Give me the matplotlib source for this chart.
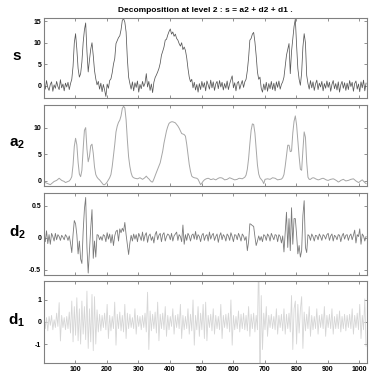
import numpy as np
import matplotlib
matplotlib.use('Agg')
import matplotlib.pyplot as plt

plt.rcParams['font.family'] = ['Liberation Sans', 'DejaVu Sans']
plt.rcParams['font.weight'] = 'bold'
plt.rcParams['mathtext.fontset'] = 'custom'
plt.rcParams['mathtext.bf'] = 'Liberation Sans:bold'
plt.rcParams['mathtext.rm'] = 'Liberation Sans:bold'
plt.rcParams['axes.unicode_minus'] = False

# sample numbers (every 4th sample of the 1024-sample signal)
sample_index = np.arange(1, 1025, 4)

s_values = [
    0.5, -0.8, 1.2, -0.4, -1.1, 0.3, 0.9, -1.3, 0.2, -0.6, 1.0, -0.2, -0.9, 1.4, -0.5, 0.4,
    -1.2, 0.6, -0.3, 0.8, -0.9, 0.5, 1.5, 4.5, 10.0, 12.1, 8.5, 4.0, 2.0, 2.8, 5.5, 10.0,
    13.0, 14.6, 8.0, 3.2, 6.0, 8.5, 10.0, 7.0, 3.5, 1.6, 0.2, 1.0, -0.8, 0.6, -1.4, 0.3,
    -1.0, -2.5, 0.4, -0.6, 1.2, 1.6, 3.0, 5.0, 6.3, 9.8, 10.5, 11.2, 11.6, 13.0, 15.2, 15.6,
    14.8, 12.5, 6.3, 2.0, 0.5, -0.8, 0.9, -1.2, 0.7, -0.4, 1.1, -1.5, 0.3, -0.7, 1.0, -0.2,
    0.6, 2.8, -0.3, 1.0, -1.1, 0.4, -1.6, 0.8, 1.9, 2.5, 3.2, 4.0, 5.2, 7.1, 8.0, 9.0,
    10.6, 10.8, 11.8, 12.6, 13.2, 12.0, 12.5, 11.5, 12.0, 11.0, 10.6, 9.8, 9.2, 10.0, 8.4, 9.0,
    8.2, 6.5, 4.0, 2.0, 0.9, 1.5, -0.5, 0.8, -1.0, 0.3, -1.5, 0.5, -0.9, 1.0, -0.4, 0.7,
    -1.2, 1.1, 0.2, -0.8, 1.3, -0.5, 0.9, -1.1, 0.4, 1.0, -0.7, 1.2, -0.3, 0.8, -1.0, 0.5,
    -0.6, 1.1, -0.9, 0.4, 1.4, 2.3, -0.5, 0.7, -1.2, 0.6, 1.0, -0.8, 0.3, 1.2, -0.4, 0.9,
    1.5, 3.5, 6.5, 10.6, 11.0, 12.0, 12.4, 10.2, 7.0, 3.2, 1.5, 2.0, -0.6, -1.5, 0.4, -1.0,
    0.8, -1.3, 0.5, -0.7, 1.0, -0.9, 0.6, -1.2, 0.9, -0.4, 1.1, -0.8, 0.3, 0.9, 2.0, 4.5,
    7.1, 8.5, 9.8, 2.8, 8.0, 11.0, 13.8, 15.5, 9.4, 4.0, 1.5, 0.1, 3.0, 9.0, 12.1, 10.0,
    2.4, 0.5, -0.8, 1.2, -0.5, 0.9, -1.1, 0.4, 1.3, -0.9, 0.6, -0.3, 1.0, -1.2, 0.5, -0.6,
    1.1, -0.4, 0.8, -1.3, 0.3, 1.2, -0.7, 0.5, -1.0, 0.9, -1.5, 0.2, 1.0, -0.6, 0.7, -1.1,
    0.6, -0.9, 1.2, -0.2, 0.8, -1.3, 0.5, 1.1, -0.8, 0.4, -1.4, 0.9, -0.5, 1.3, -1.2, 0.6,
]

a2_values = [
    -0.3, -0.3, -0.4, -0.5, -0.6, -0.7, -0.5, -0.3, -0.1, 0.0, 0.1, 0.3, 0.5, 0.3, 0.1, 0.0,
    -0.1, -0.3, -0.2, -0.1, 0.0, 0.3, 0.8, 3.0, 6.5, 8.0, 6.8, 3.5, 1.3, 0.8, 2.0, 6.0,
    9.5, 10.0, 6.0, 3.6, 4.6, 6.6, 6.9, 5.2, 2.6, 1.2, 0.7, 0.4, 0.2, -0.1, -0.4, -0.7,
    -0.7, -0.5, -0.2, 0.2, 0.6, 1.2, 2.7, 4.7, 6.8, 9.2, 10.3, 11.0, 11.4, 12.2, 13.6, 14.0,
    13.7, 11.5, 7.7, 4.5, 2.7, 1.5, 0.8, 0.6, 0.5, 0.45, 0.4, 0.5, 0.6, 0.45, 0.3, 0.45,
    0.65, 0.9, 0.6, 0.4, 0.1, -0.15, -0.2, 0.35, 1.0, 1.6, 2.2, 2.8, 3.4, 4.5, 5.6, 7.1,
    8.3, 9.4, 10.2, 10.8, 11.0, 11.1, 11.1, 11.0, 10.9, 10.6, 10.3, 9.9, 9.4, 8.9, 8.8, 8.7,
    8.4, 6.9, 5.0, 3.1, 1.8, 0.9, 0.7, 0.6, 0.55, 0.5, 0.3, -0.2, -0.7, -0.4, -0.05, 0.2,
    0.35, 0.45, 0.5, 0.4, 0.25, 0.3, 0.4, 0.3, 0.2, 0.35, 0.5, 0.6, 0.6, 0.55, 0.4, 0.2,
    0.25, 0.3, 0.45, 0.6, 0.5, 0.4, 0.3, 0.2, 0.25, 0.3, 0.45, 0.5, 0.45, 0.4, 0.55, 0.7,
    1.1, 2.2, 4.2, 7.0, 9.5, 10.7, 10.6, 9.0, 6.0, 3.0, 1.3, 0.6, 0.3, 0.0, -0.5, 0.3,
    0.35, 0.4, 0.35, 0.3, 0.45, 0.6, 0.55, 0.5, 0.35, 0.2, 0.25, 0.3, 0.35, 0.6, 1.2, 2.8,
    4.8, 6.7, 6.7, 5.5, 5.6, 9.0, 11.2, 12.2, 10.5, 7.5, 4.6, 2.2, 2.0, 5.8, 9.2, 8.2,
    3.5, 0.7, 0.3, 0.3, 0.5, 0.6, 0.55, 0.4, 0.3, 0.2, 0.25, 0.35, 0.45, 0.5, 0.4, 0.25,
    0.15, 0.1, 0.2, 0.3, 0.35, 0.4, 0.3, 0.15, 0.0, -0.2, -0.1, 0.1, 0.2, 0.3, 0.15, 0.0,
    0.05, 0.1, 0.2, 0.3, 0.35, 0.4, 0.2, 0.0, -0.15, -0.3, -0.15, 0.05, 0.2, -0.05, -0.3, -0.5,
]

d2_values = [
    0.08, -0.06, 0.11, -0.09, 0.05, -0.10, 0.07, 0.02, -0.05, 0.07, -0.03, 0.05, 0.02, -0.04, 0.04, 0.01,
    -0.03, 0.05, 0.02, -0.04, 0.03, -0.08, -0.23, 0.05, 0.27, 0.22, 0.05, -0.25, -0.05, -0.33, -0.40, 0.10,
    0.45, 0.63, -0.15, -0.55, -0.20, 0.15, 0.44, -0.32, -0.05, -0.30, 0.05, 0.04, -0.03, 0.02, -0.04, 0.05,
    0.03, -0.06, 0.08, -0.02, 0.06, -0.08, 0.05, -0.12, 0.03, 0.10, 0.12, -0.05, 0.14, 0.08, 0.15, 0.10,
    0.24, 0.05, -0.10, -0.26, -0.08, 0.04, -0.05, 0.06, -0.02, 0.05, -0.06, 0.07, 0.02, -0.04, 0.09, -0.05,
    0.04, 0.08, -0.07, 0.03, 0.06, -0.04, 0.02, -0.08, 0.05, 0.10, -0.03, 0.04, 0.07, -0.06, 0.05, 0.08,
    -0.05, 0.02, 0.06, 0.04, -0.03, 0.07, -0.05, 0.03, 0.06, 0.09, -0.04, 0.05, 0.02, -0.06, 0.20, -0.10,
    0.05, -0.04, 0.07, 0.03, -0.05, 0.04, 0.06, -0.02, 0.10, -0.03, 0.05, 0.02, -0.06, 0.04, 0.07, -0.04,
    0.03, 0.05, -0.05, 0.09, -0.02, 0.04, 0.07, -0.04, 0.02, 0.06, -0.07, 0.03, 0.08, -0.03, 0.05, 0.02,
    -0.05, 0.06, 0.03, -0.04, 0.08, 0.02, -0.06, 0.05, 0.04, -0.03, 0.07, 0.02, -0.05, 0.06, 0.03, -0.04,
    0.02, -0.20, -0.06, 0.22, 0.21, 0.19, 0.18, 0.02, -0.12, -0.05, 0.03, -0.04, 0.02, -0.06, 0.05, 0.03,
    -0.04, 0.06, 0.03, -0.05, 0.07, 0.02, -0.03, 0.05, 0.04, -0.06, 0.05, 0.02, -0.08, 0.03, -0.22, 0.10,
    0.40, -0.15, 0.30, -0.20, 0.47, -0.10, 0.30, 0.30, 0.05, -0.25, -0.12, -0.30, -0.20, 0.35, 0.58, -0.15,
    -0.23, 0.05, 0.03, -0.04, 0.06, 0.02, -0.05, 0.04, 0.03, -0.03, 0.06, 0.02, -0.04, 0.05, 0.03, -0.02,
    0.05, 0.07, -0.04, 0.03, 0.06, -0.05, 0.04, 0.02, -0.03, 0.05, 0.04, -0.06, 0.03, 0.07, -0.02, 0.04,
    0.05, -0.04, 0.03, 0.06, -0.03, 0.04, 0.12, -0.08, 0.05, 0.02, 0.14, -0.10, 0.06, 0.03, -0.05, 0.02,
]

d1_values = [
    0.35, -0.30, 0.20, -0.40, 0.25, -0.15, 0.30, -0.35, 0.10, -0.25, 0.40, -0.20, 0.88, -0.86, 0.30, -0.25,
    0.20, -0.35, 0.25, -0.30, 0.45, -0.50, 0.95, -0.90, 0.70, -0.60, 1.10, -0.85, 0.60, -1.00, 0.95, -0.55,
    0.70, -0.80, 1.40, -1.20, 0.60, -0.90, 1.25, -1.30, 1.15, -1.00, 0.55, -0.45, 0.35, -0.40, 0.30, -0.25,
    0.40, -0.35, 0.80, -0.75, 0.30, -0.40, 0.25, -0.30, 0.90, -1.05, 0.35, -0.30, 0.45, -0.40, 0.30, -0.45,
    0.80, -0.75, 0.40, -0.30, 0.35, -0.25, 0.20, -0.30, 0.60, -0.55, 0.30, -0.20, 0.25, -0.35, 0.30, -0.25,
    0.40, -0.45, 1.35, -1.25, 0.50, -0.40, 0.35, -0.30, 0.45, -0.50, 0.90, -0.85, 0.35, -0.30, 0.40, -0.35,
    0.70, -0.65, 0.30, -0.35, 0.25, -0.20, 0.60, -0.55, 0.30, -0.25, 0.35, -0.30, 0.80, -0.75, 0.30, -0.35,
    0.25, -0.30, 0.60, -0.55, 0.35, -0.40, 1.00, -1.05, 0.30, -0.35, 0.70, -0.65, 0.40, -0.35, 0.80, -0.75,
    0.90, -0.85, 0.30, -0.25, 0.35, -0.40, 0.60, -0.55, 0.30, -0.30, 0.25, -0.35, 0.80, -0.75, 0.30, -0.25,
    0.35, -0.30, 0.40, -0.45, 1.00, -1.05, 0.30, -0.35, 0.25, -0.30, 0.50, -0.45, 0.35, -0.30, 0.40, -0.35,
    0.30, -0.40, 0.70, -0.65, 0.35, -0.30, 0.40, -0.45, 0.30, -0.35, 3.00, -3.00, 1.20, -1.25, 0.40, -0.35,
    0.70, -0.65, 0.30, -0.25, 0.35, -0.30, 0.25, -0.35, 0.60, -0.55, 0.30, -0.25, 0.35, -0.40, 0.60, -0.55,
    0.35, -0.30, 0.40, -0.45, 1.20, -1.25, 0.60, 0.95, -1.00, 0.80, -0.50, 0.55, 1.15, -1.20, 0.45, -0.40,
    0.35, -0.30, 0.70, -0.65, 0.30, -0.35, 0.25, -0.30, 0.60, -0.55, 0.30, -0.25, 0.35, -0.30, 0.70, -0.65,
    0.30, -0.25, 0.35, -0.30, 0.60, -0.55, 0.25, -0.30, 0.35, -0.30, 0.50, -0.45, 0.25, -0.30, 0.35, -0.40,
    0.30, -0.25, 0.35, -0.30, 0.60, -0.55, 0.30, -0.25, 0.40, -0.35, 0.80, -0.75, 0.30, -0.35, 1.05, -1.10,
]

x_ticks = [100, 200, 300, 400, 500, 600, 700, 800, 900, 1000]
x_tick_labels = ['100', '200', '300', '400', '500', '600', '700', '800', '900', '1000']

panel_names = [r'$\mathbf{s}$', r'$\mathbf{a_2}$', r'$\mathbf{d_2}$', r'$\mathbf{d_1}$']
panel_data = [s_values, a2_values, d2_values, d1_values]
panel_ylims = [(-2.86, 15.75), (-0.95, 14.25), (-0.58, 0.70), (-1.86, 1.86)]
panel_yticks = [[0, 5, 10, 15], [0, 5, 10], [-0.5, 0, 0.5], [-1, 0, 1]]
panel_ytick_labels = [['0', '5', '10', '15'], ['0', '5', '10'], ['-0.5', '0', '0.5'], ['-1', '0', '1']]
panel_colors = ['#575757', '#a6a6a6', '#7a7a7a', '#d6d6d6']
panel_lw = [0.55, 0.7, 0.6, 0.6]

title_text = 'Decomposition at level 2 : s = a2 + d2 + d1 .'

W, H = 374, 380
fig = plt.figure(figsize=(W / 100, H / 100), dpi=100)
left_px, right_px = 44, 367
panel_px = [(18, 98), (105, 186), (193, 275), (281, 363)]
frame_color = '#808080'

for k, (top, bot) in enumerate(panel_px):
    ax = fig.add_axes([left_px / W, 1 - bot / H, (right_px - left_px) / W, (bot - top) / H])
    ax.plot(sample_index, panel_data[k], color=panel_colors[k], lw=panel_lw[k])
    ax.set_xlim(1, 1024)
    ax.set_ylim(*panel_ylims[k])
    ax.set_xticks(x_ticks)
    if k == 3:
        ax.set_xticklabels(x_tick_labels, fontsize=5, fontweight='bold')
    else:
        ax.set_xticklabels([])
    ax.set_yticks(panel_yticks[k])
    ax.set_yticklabels(panel_ytick_labels[k], fontsize=5, fontweight='bold')
    ax.tick_params(direction='in', top=True, right=True, length=2.5, width=0.6,
                   color=frame_color, labelcolor='black', pad=2)
    for sp in ax.spines.values():
        sp.set_color(frame_color)
        sp.set_linewidth(0.8)
    fig.text(17 / W, 1 - ((top + bot) / 2 - 2) / H, panel_names[k], fontsize=11,
             ha='center', va='center', fontweight='bold')
    if k == 0:
        ax.set_title(title_text, fontsize=6.0, fontweight='bold', pad=4)

fig.savefig('out.png', dpi=100)
